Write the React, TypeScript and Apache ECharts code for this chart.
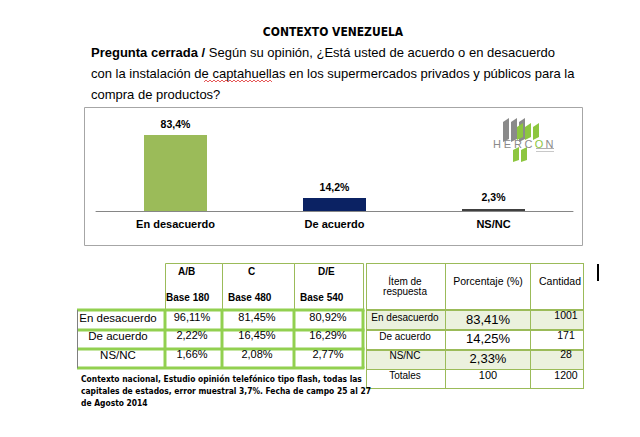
import React, { useEffect, useRef } from 'react';
import * as echarts from 'echarts';

const categories = ['En desacuerdo', 'De acuerdo', 'NS/NC'];
const values = [83.4, 14.2, 2.3];
const barColors = ['#9bbb59', '#0b2263', '#404040'];

const segHeaders = ['A/B', 'C', 'D/E'];
const segBases = ['Base 180', 'Base 480', 'Base 540'];
const segRows = ['En desacuerdo', 'De acuerdo', 'NS/NC'];
const segAB = ['96,11%', '2,22%', '1,66%'];
const segC = ['81,45%', '16,45%', '2,08%'];
const segDE = ['80,92%', '16,29%', '2,77%'];

const itemHeader = ['Ítem de', 'respuesta'];
const pctHeader = 'Porcentaje (%)';
const cntHeader = 'Cantidad';
const itemRows = ['En desacuerdo', 'De acuerdo', 'NS/NC', 'Totales'];
const pctRows = ['83,41%', '14,25%', '2,33%', '100'];
const cntRows = ['1001', '171', '28', '1200'];

const titleText = 'CONTEXTO VENEZUELA';
const questionLines = [
  '{b|Pregunta cerrada /} Según su opinión, ¿Está usted de acuerdo o en desacuerdo',
  'con la instalación de captahuellas en los supermercados privados y públicos para la',
  'compra de productos?',
];
const footLines = [
  'Contexto nacional, Estudio opinión telefónico tipo flash, todas las',
  'capitales de estados, error muestral 3,7%. Fecha de campo 25 al 27',
  'de Agosto 2014',
];

const FF = '"Liberation Sans", Arial, sans-serif';
const NARROW = '"Liberation Sans Narrow", "DejaVu Sans Condensed", "Liberation Sans", sans-serif';

function txt(x: number, y: number, text: string, o: any = {}) {
  const align = o.align || 'left';
  return {
    type: 'text',
    x,
    y,
    silent: true,
    z: o.z || 10,
    scaleX: o.scaleX || 1,
    style: {
      text,
      fill: o.color || '#000',
      fontSize: o.size || 10,
      fontWeight: o.weight || 'normal',
      fontFamily: o.family || FF,
      textAlign: align,
      align,
      textVerticalAlign: 'middle',
      verticalAlign: 'middle',
      rich: o.rich,
    },
  };
}

function ln(x1: number, y1: number, x2: number, y2: number, stroke: string, lw: number) {
  return { type: 'line', silent: true, z: 5, shape: { x1, y1, x2, y2 }, style: { stroke, lineWidth: lw } };
}

function buildGraphic() {
  const g: any[] = [];
  // title
  g.push(txt(333, 31, titleText, { size: 13, weight: 'bold', family: NARROW, align: 'center', scaleX: 0.92 }));
  // question
  const qy = [52, 73, 94];
  questionLines.forEach((l, i) => {
    g.push(txt(91, qy[i], l, { size: 13, rich: { b: { fontWeight: 'bold', fontSize: 13, fontFamily: FF, fill: '#000' } } }));
  });
  // spellcheck wavy underline under "captahuellas"
  const pts: number[][] = [];
  for (let x = 204, k = 0; x <= 273; x += 2, k++) pts.push([x, k % 2 ? 80 : 82]);
  g.push({ type: 'polyline', silent: true, shape: { points: pts }, style: { stroke: '#e03030', lineWidth: 0.8, fill: null } });

  // chart box
  g.push({ type: 'rect', silent: true, z: 1, shape: { x: 84.5, y: 107.5, width: 498, height: 138 }, style: { fill: 'none', stroke: '#a6a6a6', lineWidth: 1 } });

  // logo
  const gray = '#8a8a8a';
  const green = '#8dc63f';
  [503, 511, 519].forEach((x) => {
    g.push({ type: 'polygon', silent: true, z: 6, shape: { points: [[x, 122], [x + 6, 118], [x + 6, 139], [x, 142]] }, style: { fill: gray } });
  });
  [517, 525, 533].forEach((x, i) => {
    g.push({ type: 'polygon', silent: true, z: 7, shape: { points: [[x, 127], [x + 6, 123], [x + 6, 137], [x, 140]] }, style: { fill: green } });
    if (i < 2) g.push({ type: 'polygon', silent: true, z: 7, shape: { points: [[x - 4, 150], [x + 2, 147], [x + 2, 160], [x - 4, 162]] }, style: { fill: green } });
  });
  const logoLetters = ['H', 'E', 'R', 'C', 'O', 'N'];
  const logoColors = [gray, gray, gray, gray, green, gray];
  logoLetters.forEach((c, i) => {
    g.push(txt(497 + i * 10.5, 144, c, { size: 11, color: logoColors[i], align: 'center', z: 12 }));
  });
  g.push({ type: 'rect', silent: true, z: 12, shape: { x: 536, y: 148, width: 18, height: 1 }, style: { fill: '#b0b0b0' } });
  g.push({ type: 'rect', silent: true, z: 12, shape: { x: 536, y: 151, width: 18, height: 1 }, style: { fill: '#c8c8c8' } });

  // ---- left table ----
  const LX = [77, 165, 222, 294, 363];
  const LY = [263, 310, 330, 349, 368];
  for (let i = 0; i < 3; i++) {
    g.push({ type: 'rect', silent: true, z: 4, shape: { x: LX[i + 1] + 0.5, y: LY[0] + 0.5, width: LX[i + 2] - LX[i + 1], height: LY[1] - LY[0] }, style: { fill: 'none', stroke: '#9bbb59', lineWidth: 1 } });
  }
  const hx = [178, 248, 318];
  const bx = [166, 228, 300];
  segHeaders.forEach((h, i) => g.push(txt(hx[i], 271, h, { size: 10, weight: 'bold' })));
  segBases.forEach((h, i) => g.push(txt(bx[i], 297, h, { size: 10, weight: 'bold' })));
  // thick green grid
  LY.slice(1).forEach((y) => g.push(ln(LX[0], y, LX[4] + 1.5, y, '#92d050', 3)));
  LX.slice(1).forEach((x) => g.push(ln(x, LY[1], x, LY[4], '#92d050', 3)));
  g.push(ln(LX[0] + 0.5, LY[1], LX[0] + 0.5, LY[4], '#7f7f7f', 1));
  const rowY = [318, 336, 355];
  const cols = [segAB, segC, segDE];
  const colCx = [192, 257, 328];
  segRows.forEach((r, i) => {
    g.push(txt(118, rowY[i], r, { size: 11.5, align: 'center' }));
    cols.forEach((c, j) => g.push(txt(colCx[j], rowY[i] - 1, c[i], { size: 11, align: 'center' })));
  });

  // ---- right table ----
  const RX = [366, 445, 530, 583];
  const RY = [263, 310, 330, 350, 369, 388];
  [0, 2].forEach((r) => {
    g.push({ type: 'rect', silent: true, z: 2, shape: { x: RX[0], y: RY[r + 1], width: RX[3] - RX[0], height: RY[r + 2] - RY[r + 1] }, style: { fill: '#ebf1de' } });
  });
  RX.forEach((x) => g.push(ln(x + 0.5, RY[0], x + 0.5, RY[5], '#9bbb59', 1)));
  RY.forEach((y, i) => {
    const thick = i >= 1 && i <= 3;
    g.push(ln(RX[0], thick ? y : y + 0.5, RX[3] + 1, thick ? y : y + 0.5, '#9bbb59', thick ? 2 : 1));
  });
  g.push(txt(405, 281, itemHeader[0], { size: 10, align: 'center' }));
  g.push(txt(405, 291, itemHeader[1], { size: 10, align: 'center' }));
  g.push(txt(488, 281, pctHeader, { size: 10.5, align: 'center' }));
  g.push(txt(560, 281, cntHeader, { size: 10.5, align: 'center' }));
  const iy = [317, 336, 355, 375];
  const py = [319, 338, 358, 375];
  const cy = [315, 335, 354, 375];
  itemRows.forEach((r, i) => {
    g.push(txt(405, iy[i], r, { size: 10, align: 'center' }));
    g.push(txt(488, py[i], pctRows[i], { size: i < 3 ? 13 : 11, align: 'center' }));
    g.push(txt(566, cy[i], cntRows[i], { size: 10.5, align: 'center' }));
  });

  // cursor mark
  g.push({ type: 'rect', silent: true, z: 10, shape: { x: 597, y: 264, width: 2, height: 17 }, style: { fill: '#000' } });

  // footnote
  const fy = [379, 391, 403];
  footLines.forEach((l, i) => g.push(txt(81, fy[i], l, { size: 9.5, weight: 'bold', family: NARROW, scaleX: 0.885 })));
  return g;
}

export default function App() {
  const ref = useRef<HTMLDivElement>(null);
  useEffect(() => {
    if (!ref.current) return;
    const chart = echarts.init(ref.current, undefined, { renderer: 'svg' });
    chart.setOption({
      animation: false,
      backgroundColor: '#fff',
      textStyle: { fontFamily: FF },
      grid: { left: 96, top: 120, width: 477, height: 91 },
      xAxis: {
        type: 'category',
        data: categories,
        axisLine: { lineStyle: { color: '#868686', width: 1 } },
        axisTick: { show: false },
        axisLabel: { color: '#000', fontWeight: 'bold', fontSize: 11, margin: 7, fontFamily: FF },
      },
      yAxis: { type: 'value', min: 0, max: 100, show: false, splitLine: { show: false } },
      series: [
        {
          type: 'bar',
          barWidth: 63,
          data: values.map((v, i) => ({ value: v, itemStyle: { color: barColors[i] } })),
          label: {
            show: true,
            position: 'top',
            distance: 6,
            color: '#000',
            fontWeight: 'bold',
            fontSize: 10.5,
            fontFamily: FF,
            formatter: (p: any) => `${p.value.toFixed(1).replace('.', ',')}%`,
          },
        },
      ],
      graphic: buildGraphic(),
    });
    return () => chart.dispose();
  }, []);
  return <div ref={ref} style={{ position: 'absolute', left: 0, top: 0, width: 640, height: 437 }} />;
}
